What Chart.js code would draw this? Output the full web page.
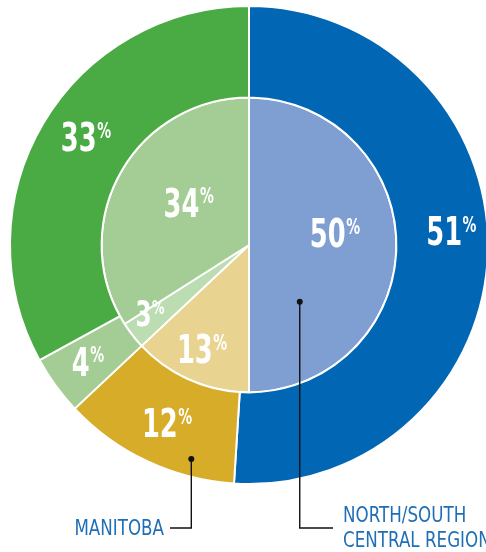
<!DOCTYPE html>
<html>
<head>
<meta charset="utf-8">
<script src="https://cdn.jsdelivr.net/npm/chart.js@4"></script>
<style>
  html,body{margin:0;padding:0;background:#fff;overflow:hidden;width:486px;height:552px;}
  #wrap{position:absolute;left:0;top:0;width:489px;height:552px;}
</style>
</head>
<body>
<div id="wrap"><canvas id="c" width="489" height="552"></canvas></div>
<script>
// datos: anillo exterior y pastel interior (sentido horario desde arriba)
const regions = ['North/South Central Region','Manitoba','Other','Rest'];
const outerValues = [51, 12, 4, 33];
const innerValues = [50, 13, 3, 34];
const outerColors = ['#0166b3','#d6ac29','#a4cd95','#4aaa44'];
const innerColors = ['#7f9fd3','#e8d390','#bcdcb1','#a4cd95'];

// ajustes manuales de posición de las etiquetas (px, respecto al centro del arco)
const outerNudge = [[9,-20],[0,3],[-5,3],[3,-10]];
const innerNudge = [[12,-12],[-18,36],[-41,23],[4,-7]];

const FONT = '"DejaVu Sans", sans-serif';
const PCT_SX = 0.66;   // compresión horizontal (fuente condensada)
const CALL_SX = 0.76;
const calloutColor = '#1f6fb6';

// llamadas: dataset, porción, fracción angular y radial dentro del arco
const callouts = [
  {ds:0, idx:1, fa:0.266, fr:0.81, lineY:528, side:'left',  lines:['MANITOBA'], tx:164, ty:[535]},
  {ds:1, idx:0, fa:0.768, fr:0.517, lineY:528, side:'right', lines:['NORTH/SOUTH','CENTRAL REGION'], tx:343, ty:[522,547]}
];

function fillSx(ctx, text, x, y, sx){
  ctx.save();
  ctx.translate(x, y); ctx.scale(sx, 1);
  ctx.fillText(text, 0, 0);
  ctx.restore();
}

function drawPct(ctx, text, x, y, size){
  const big = 'bold '+size+'px '+FONT;
  const ss = Math.round(size*0.54);
  const small = 'bold '+ss+'px '+FONT;
  ctx.font = big; const w1 = ctx.measureText(text).width*PCT_SX;
  ctx.font = small; const w2 = ctx.measureText('%').width*PCT_SX;
  const x0 = x - (w1+w2)/2;
  const base = y + size*0.36;
  ctx.fillStyle = '#fff';
  ctx.textAlign = 'left'; ctx.textBaseline = 'alphabetic';
  ctx.font = big; fillSx(ctx, text, x0, base, PCT_SX);
  ctx.font = small; fillSx(ctx, '%', x0+w1+0.5, base - size*0.729 + ss*0.729, PCT_SX);
}

const labelPlugin = {
  id:'labels',
  afterDatasetsDraw(chart){
    const ctx = chart.ctx;
    ctx.save();
    [[outerValues,outerNudge],[innerValues,innerNudge]].forEach(([vals,nudge],d)=>{
      chart.getDatasetMeta(d).data.forEach((arc,i)=>{
        const p = arc.tooltipPosition();
        const size = vals[i] < 4 && d===1 ? 35 : 39;
        drawPct(ctx, String(vals[i]), p.x+nudge[i][0], p.y+nudge[i][1], size);
      });
    });
    // líneas de llamada
    callouts.forEach(c=>{
      const arc = chart.getDatasetMeta(c.ds).data[c.idx];
      const {x,y,startAngle,endAngle,innerRadius,outerRadius} = arc.getProps(['x','y','startAngle','endAngle','innerRadius','outerRadius']);
      const a = startAngle + (endAngle-startAngle)*c.fa;
      const r = innerRadius + (outerRadius-innerRadius)*c.fr;
      const px = x + r*Math.cos(a), py = y + r*Math.sin(a);
      ctx.strokeStyle = '#111'; ctx.lineWidth = 1.4;
      ctx.beginPath();
      ctx.moveTo(px, py); ctx.lineTo(px, c.lineY);
      ctx.lineTo(c.side==='left' ? c.tx+6 : c.tx-10, c.lineY);
      ctx.stroke();
      ctx.fillStyle = '#111';
      ctx.beginPath(); ctx.arc(px, py, 3, 0, Math.PI*2); ctx.fill();
      ctx.fillStyle = calloutColor;
      ctx.font = '22px '+FONT;
      ctx.textBaseline = 'alphabetic'; ctx.textAlign = 'left';
      c.lines.forEach((t,k)=>{
        const w = ctx.measureText(t).width*CALL_SX;
        fillSx(ctx, t, c.side==='left' ? c.tx-w : c.tx, c.ty[k], CALL_SX);
      });
    });
    ctx.restore();
  }
};

new Chart(document.getElementById('c'),{
  type:'doughnut',
  data:{
    labels: regions,
    datasets:[
      {data:outerValues, backgroundColor:outerColors, borderColor:'#fff', borderWidth:2, weight:92},
      {data:innerValues, backgroundColor:innerColors, borderColor:'#fff', borderWidth:2, weight:148}
    ]
  },
  options:{
    responsive:false, animation:false, cutout:0,
    layout:{padding:{left:9, top:5, right:0, bottom:67}},
    plugins:{legend:{display:false}, tooltip:{enabled:false}}
  },
  plugins:[labelPlugin]
});
</script>
</body>
</html>
